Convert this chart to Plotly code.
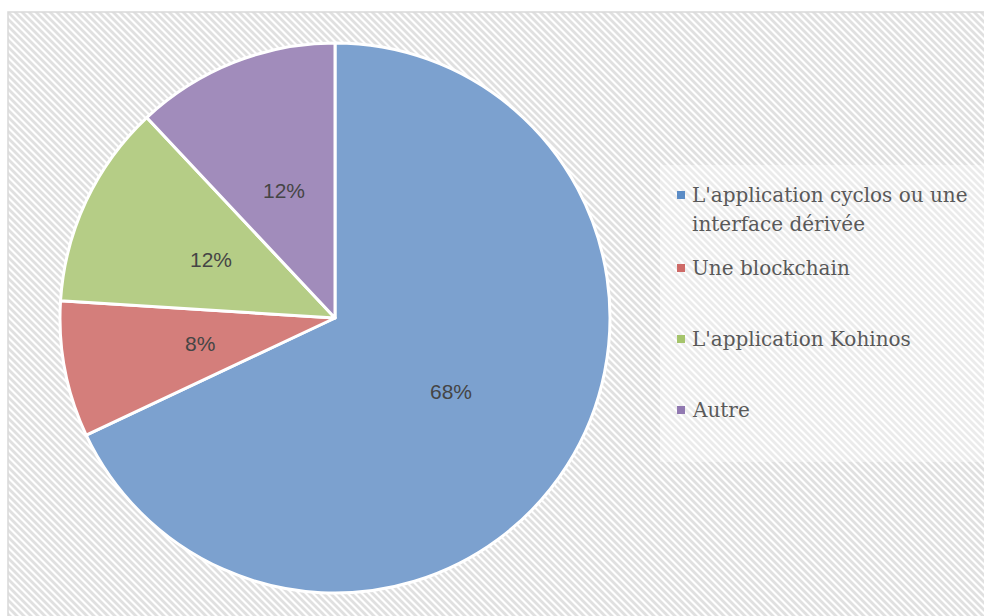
import math, base64
import plotly.graph_objects as go

W, H = 984, 616

labels = ["L'application cyclos ou une interface dérivée", "Une blockchain",
          "L'application Kohinos", "Autre"]
legend_lines = [["L'application cyclos ou une", "interface dérivée"], ["Une blockchain"],
                ["L'application Kohinos"], ["Autre"]]
values = [17, 2, 3, 3]
colors = ["#7CA1CF", "#D47E7B", "#B5CD86", "#A18CBB"]
legend_colors = ["#5B8CC6", "#CE6A67", "#A5C46B", "#9179B1"]

# pie geometry (pixels)
cx, cy, R = 335, 318, 275
dom_x = [(cx - R) / W, (cx + R) / W]
dom_y = [1 - (cy + R) / H, 1 - (cy - R) / H]

# hatched background as svg
fw, fh = W - 8, H - 12
svg = f'''<svg xmlns="http://www.w3.org/2000/svg" width="{fw}" height="{fh}" viewBox="0 0 {fw} {fh}" preserveAspectRatio="none">
<defs><pattern id="p" width="7" height="7" patternUnits="userSpaceOnUse">
<rect width="7" height="7" fill="#ffffff"/>
<path d="M-2,-2 L9,9 M-2,5 L2,9 M5,-2 L9,2" stroke="#e0e0e0" stroke-width="2.8"/>
</pattern></defs>
<rect width="{fw}" height="{fh}" fill="url(#p)"/>
</svg>'''
src = "data:image/svg+xml;base64," + base64.b64encode(svg.encode()).decode()

fig = go.Figure()
fig.add_trace(go.Pie(
    labels=labels, values=values, sort=False, direction="clockwise", rotation=0,
    marker=dict(colors=colors, line=dict(color="white", width=3)),
    textinfo="none", hoverinfo="label+percent", showlegend=False,
    domain=dict(x=dom_x, y=dom_y),
))

annotations = []
total = sum(values)
cum = 0
for v in values:
    mid = (cum + v / 2) / total * 2 * math.pi
    cum += v
    px = cx + 0.5 * R * math.sin(mid)
    py = cy - 0.5 * R * math.cos(mid)
    annotations.append(dict(
        x=px / W, y=1 - py / H, xref="paper", yref="paper", showarrow=False,
        text=f"{round(v / total * 100)}%", xanchor="center", yanchor="middle",
        font=dict(family="Liberation Sans, sans-serif", size=21, color="#454545"),
    ))

shapes = [
    dict(type="rect", xref="paper", yref="paper", x0=8 / W, x1=1.05, y0=-0.05, y1=1 - 12 / H,
         line=dict(color="#d9d9d9", width=1.5), fillcolor="rgba(0,0,0,0)", layer="below"),
    dict(type="rect", xref="paper", yref="paper", x0=660 / W, x1=1.0,
         y0=1 - 462 / H, y1=1 - 165 / H, line=dict(width=0),
         fillcolor="rgba(255,255,255,0.35)", layer="below"),
]

leg_y = [195, 268, 339, 410]
for i, (lines, c) in enumerate(zip(legend_lines, legend_colors)):
    y = leg_y[i]
    shapes.append(dict(type="rect", xref="paper", yref="paper",
                       x0=677 / W, x1=685 / W, y0=1 - (y + 4) / H, y1=1 - (y - 4) / H,
                       fillcolor=c, line=dict(width=0)))
    for j, t in enumerate(lines):
        annotations.append(dict(
            x=690 / W, y=1 - (y + 29 * j) / H, xref="paper", yref="paper", showarrow=False,
            text=t, xanchor="left", yanchor="middle", align="left",
            font=dict(family="DejaVu Serif, serif", size=20, color="#595959"),
        ))

fig.update_layout(
    width=W, height=H, margin=dict(l=0, r=0, t=0, b=0),
    paper_bgcolor="white", plot_bgcolor="white",
    images=[dict(source=src, xref="paper", yref="paper", x=8 / W, y=1 - 12 / H,
                 sizex=fw / W, sizey=fh / H, sizing="stretch", layer="below",
                 xanchor="left", yanchor="top")],
    shapes=shapes, annotations=annotations,
)

fig.write_html("out.html", config={"displayModeBar": False},
               post_script="document.body.style.margin='0px';")
